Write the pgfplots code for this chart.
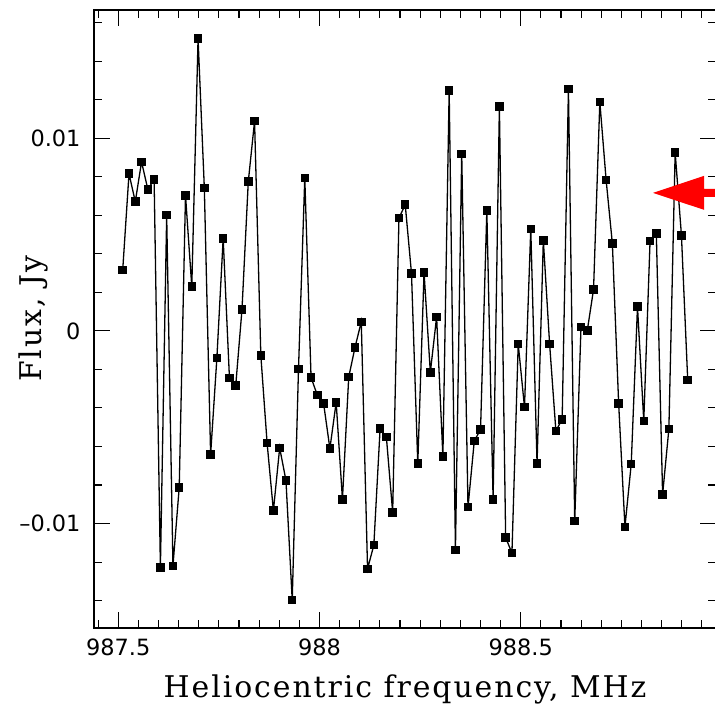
\documentclass[border=0pt]{standalone}
\usepackage{fontspec}
\setmainfont{DejaVu Serif}[LetterSpace=6.5]
\newfontfamily\tickfont{DejaVu Sans}
\usepackage{pgfplots}
\pgfplotsset{compat=1.18}
\usepackage{pgfplotstable}
\pgfplotstableread{
x y
987.5110 0.00317
987.5266 0.00816
987.5422 0.00670
987.5578 0.00877
987.5734 0.00734
987.5890 0.00785
987.6046 -0.01228
987.6202 0.00600
987.6358 -0.01219
987.6514 -0.00812
987.6670 0.00703
987.6826 0.00229
987.6982 0.01516
987.7138 0.00741
987.7294 -0.00642
987.7450 -0.00140
987.7606 0.00479
987.7762 -0.00245
987.7918 -0.00284
987.8074 0.00112
987.8230 0.00774
987.8386 0.01088
987.8542 -0.00128
987.8698 -0.00583
987.8854 -0.00933
987.9010 -0.00607
987.9166 -0.00776
987.9322 -0.01397
987.9478 -0.00197
987.9634 0.00794
987.9790 -0.00242
987.9946 -0.00334
988.0102 -0.00377
988.0258 -0.00611
988.0414 -0.00371
988.0570 -0.00874
988.0726 -0.00240
988.0882 -0.00086
988.1038 0.00047
988.1194 -0.01235
988.1350 -0.01112
988.1506 -0.00507
988.1662 -0.00552
988.1818 -0.00942
988.1974 0.00585
988.2130 0.00655
988.2286 0.00298
988.2442 -0.00689
988.2598 0.00303
988.2754 -0.00215
988.2910 0.00072
988.3066 -0.00651
988.3222 0.01248
988.3378 -0.01137
988.3534 0.00919
988.3690 -0.00915
988.3846 -0.00572
988.4002 -0.00511
988.4158 0.00624
988.4314 -0.00876
988.4470 0.01165
988.4626 -0.01073
988.4782 -0.01153
988.4938 -0.00068
988.5094 -0.00396
988.5250 0.00529
988.5406 -0.00689
988.5562 0.00470
988.5718 -0.00068
988.5874 -0.00519
988.6030 -0.00459
988.6186 0.01256
988.6342 -0.00988
988.6498 0.00020
988.6654 0.00001
988.6810 0.00215
988.6966 0.01188
988.7122 0.00784
988.7278 0.00452
988.7434 -0.00378
988.7590 -0.01017
988.7746 -0.00692
988.7902 0.00126
988.8058 -0.00468
988.8214 0.00465
988.8370 0.00506
988.8526 -0.00849
988.8682 -0.00509
988.8838 0.00926
988.8994 0.00496
988.9150 -0.00255
}\spectrum
\begin{document}
\begin{tikzpicture}
\begin{axis}[
  scale only axis, width=622bp, height=618bp,
  xmin=987.4396, xmax=988.9853, ymin=-0.01542, ymax=0.01665,
  scaled x ticks=false, scaled y ticks=false,
  xtick={987.5,988,988.5}, xticklabels={987.5,988,988.5},
  ytick={-0.01,0,0.01}, yticklabels={–0.01,0,0.01},
  minor xtick={987.45,987.5,...,988.95},
  minor ytick={-0.014,-0.012,...,0.016},
  tick align=inside, tick pos=both,
  major tick length=16bp, minor tick length=8bp,
  axis line style={line width=1.2bp},
  tick style={line width=1.1bp, black},
  ticklabel style={font=\tickfont\fontsize{22.5}{26}\selectfont},
  xticklabel style={yshift=-7bp},
  yticklabel style={xshift=-10bp},
  xlabel={Heliocentric frequency, MHz},
  ylabel={Flux, Jy},
  xlabel style={at={(axis description cs:0.5,-0.1117)}, anchor=base, font=\fontsize{30}{35}\selectfont},
  ylabel style={at={(axis description cs:-0.0852,0.5)}, anchor=base, font=\fontsize{30}{35}\selectfont},
]
\addplot[black, line width=1.3bp, mark=square*, mark size=3.6bp, mark options={solid, fill=black}] table[x=x, y=y] {\spectrum};
\fill[red] (axis cs:988.8288,0.00716) -- (axis cs:988.9555,0.00804) -- (axis cs:988.9555,0.00737)
  -- (axis cs:989.01,0.00737) -- (axis cs:989.01,0.00695) -- (axis cs:988.9555,0.00695)
  -- (axis cs:988.9555,0.00628) -- cycle;
\coordinate (ll) at (rel axis cs:0,0);
\end{axis}
\pgfresetboundingbox
\path (ll) ++(-94bp,-77bp) rectangle ++(715bp,705bp);
\end{tikzpicture}
\end{document}
